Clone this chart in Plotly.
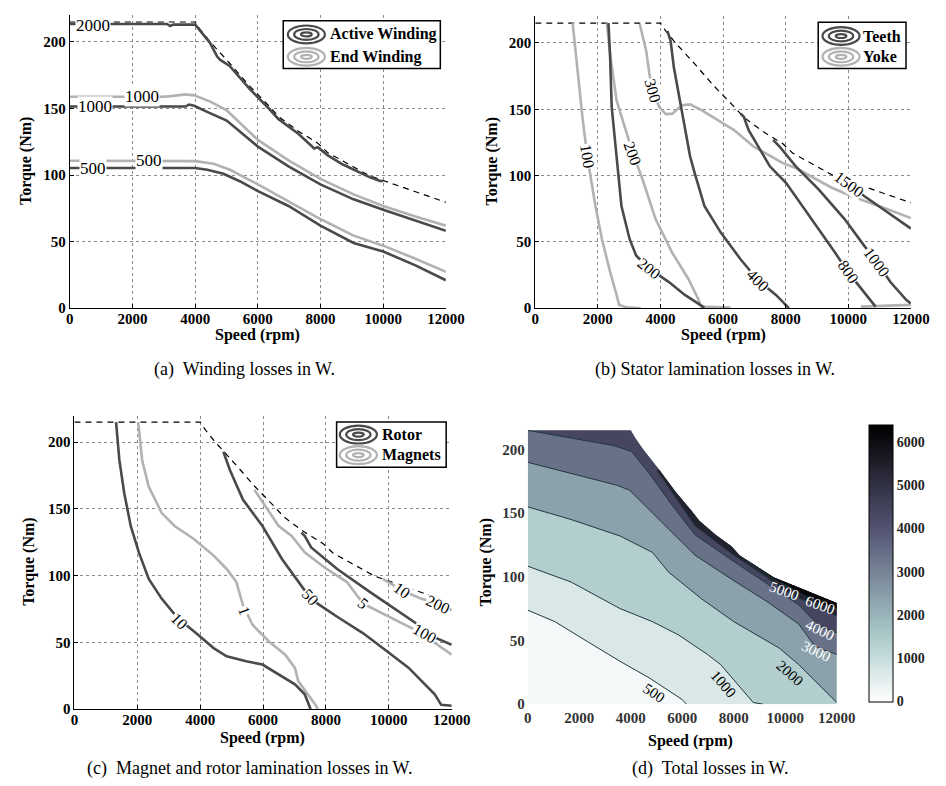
import plotly.graph_objects as go

# ---------------- DATA ----------------
speed_ticks = [0, 2000, 4000, 6000, 8000, 10000, 12000]
speed_tick_text = ["0", "2000", "4000", "6000", "8000", "10000", "12000"]
torque_ticks = [0, 50, 100, 150, 200]
cbar_ticks = [0, 1000, 2000, 3000, 4000, 5000, 6000]

# maximum torque envelope
env_speed = [0, 4000, 4170, 4480, 5100, 5730, 6350, 6660, 7290, 7910, 8220, 9560, 10600, 12000]
env_torque = [215, 215, 209, 200, 184, 167, 152, 144, 133, 124, 117, 99.5, 91, 79.5]

# (a) winding losses
a_act_2000_x = [0, 3100, 3200, 3300, 4000, 4170, 4480, 4700, 4800, 5100, 5730, 6350, 6660, 7290, 7800, 7910, 8220, 8700, 8800, 9560, 9800, 9900, 10000]
a_act_2000_y = [213.5, 213.5, 212, 213, 213, 208, 199, 189, 186.5, 182, 165, 150, 142, 131, 120, 121, 115, 108, 107, 98.5, 96, 95.5, 95.5]
a_act_1000_x = [0, 3700, 3800, 3967, 4382, 5005, 6002, 6978, 7996, 9055, 10000, 11028, 12000]
a_act_1000_y = [151.5, 151.5, 153, 152, 147.5, 141, 121.4, 106.6, 93, 81.8, 73.9, 65.7, 58.2]
a_act_500_x = [0, 4000, 4382, 4901, 5421, 6002, 6978, 7996, 9055, 10000, 11028, 12000]
a_act_500_y = [105.3, 105.3, 104, 101, 95.4, 88, 76.8, 62, 49, 42.6, 32.2, 21]
a_end_1000_x = [0, 3000, 3300, 3700, 3967, 4500, 5005, 6002, 6978, 7996, 9055, 10000, 11028, 12000]
a_end_1000_y = [158.8, 158.8, 159.5, 160.6, 159.9, 155, 148.7, 126.4, 111, 97.1, 85.5, 76.8, 68.9, 62]
a_end_500_x = [0, 4000, 4590, 5109, 6002, 6978, 7996, 9055, 10000, 11028, 12000]
a_end_500_y = [110.8, 110.5, 108.5, 104, 93, 80.5, 67, 54.5, 47, 37.2, 27.3]
a_labels = [("2000", 748, 212.6), ("1000", 800, 151.5), ("500", 748, 105.3),
            ("1000", 2305, 158.8), ("500", 2513, 110.8)]

# (b) stator lamination losses
b_teeth_200_x = [2338, 2390, 2442, 2649, 2753, 3013, 3221, 3636, 4260, 4779, 5195, 5403]
b_teeth_200_y = [215, 190, 151.7, 102, 77.1, 52.2, 39.8, 29.9, 19.9, 10, 3.7, 0.5]
b_teeth_400_x = [4221, 4324, 4427, 4583, 4791, 4947, 5091, 5403, 5922, 6545, 7117, 7688, 8104]
b_teeth_400_y = [209, 201.5, 181.6, 161.6, 136.8, 114.4, 102, 77.1, 57.2, 37.3, 21.1, 10, 0]
b_teeth_800_x = [6558, 6662, 6817, 7182, 7494, 8011, 9052, 9570, 9988, 10505, 10870]
b_teeth_800_y = [146.7, 144.3, 134.3, 119.4, 107, 94.5, 59.7, 42.2, 27.4, 12.4, 1.2]
b_teeth_1000_x = [7597, 7805, 8323, 9052, 9882, 10505, 10923, 11337, 11858, 12000]
b_teeth_1000_y = [126.9, 121.9, 107, 89.6, 67.2, 47.2, 34.8, 19.9, 6.2, 3.5]
b_teeth_1500_x = [9623, 10037, 10505, 11000, 11961, 12000]
b_teeth_1500_y = [100.7, 93.3, 84.6, 76.5, 60.9, 60]
b_yoke_100_x = [1195, 1351, 1506, 1662, 1922, 2130, 2390, 2597, 2680, 2909, 3377]
b_yoke_100_y = [215, 176.6, 144.3, 114.4, 77.1, 52.2, 27.4, 10, 2.5, 0.7, 0]
b_yoke_200_x = [2286, 2400, 2597, 2909, 3117, 3429, 3844, 4364, 4883, 5195, 5299, 6234]
b_yoke_200_y = [215, 190, 156.7, 131.8, 116.9, 97, 67.2, 42.3, 22.4, 7.5, 1.2, 0.5]
b_yoke_300_x = [3336, 3544, 3647, 3753, 3959, 4168, 4376, 4688, 4947, 5312, 6350, 6970, 7909, 8323, 9455, 10090, 11129, 12000]
b_yoke_300_y = [214.5, 194, 176.6, 164.2, 151.7, 146.3, 146.7, 153, 153.7, 149.3, 134.3, 121.9, 109.4, 105.7, 91, 84.6, 75.8, 68]
b_yoke_low_x = [10400, 12000]
b_yoke_low_y = [1.2, 2.5]
b_labels = [("100", 1662, 114.4, 81), ("200", 3117, 116.9, 70), ("300", 3753, 164.2, 74),
            ("200", 3636, 29.9, 39), ("400", 7117, 21.1, 45), ("800", 9988, 27.4, 55),
            ("1000", 10923, 34.8, 54), ("1500", 10037, 93.3, 36)]

# (c) magnet and rotor lamination losses
c_rotor_10_x = [1324, 1428, 1583, 1790, 2048, 2359, 2772, 3290, 3807, 4427, 4841, 5462, 5979, 6496, 7013, 7324, 7479, 7510]
c_rotor_10_y = [215, 186.7, 162, 137.2, 117.4, 97.7, 82.8, 68, 58.1, 45.7, 39.6, 35.8, 33.4, 26, 18.5, 11.1, 1.2, 0]
c_rotor_50_x = [4738, 4944, 5358, 5979, 6600, 7117, 7322, 7530, 7735, 8356, 9184, 10012, 10633, 11046, 11459, 11665, 12000]
c_rotor_50_y = [192.8, 179.2, 157, 137.2, 112.5, 95.2, 89, 84, 79, 69.2, 56.8, 42, 30.9, 21, 11.1, 3.2, 2.5]
c_rotor_100_x = [7220, 7322, 7530, 8356, 9392, 10425, 10943, 11148, 12000]
c_rotor_100_y = [132.3, 129.8, 121.1, 105, 87.8, 71.7, 63, 56.8, 48.2]
c_mag_1_x = [2028, 2152, 2359, 2772, 3186, 3807, 4427, 4841, 5151, 5358, 5669, 6186, 6703, 7013, 7117, 7427, 7686, 7738]
c_mag_1_y = [215, 186.7, 166.9, 147.1, 137.2, 127.3, 115, 105, 95.2, 77.9, 63, 50.7, 40.8, 30.9, 21, 11.1, 2.5, 0]
c_mag_5_x = [5721, 6083, 6496, 6910, 7322, 7943, 8666, 9184, 9907, 10943, 12000]
c_mag_5_y = [164.4, 152, 137.2, 129.8, 117.5, 106.3, 95.2, 79, 70.5, 58.1, 40.8]
c_mag_10_x = [9805, 10425, 11000, 11565, 12000]
c_mag_10_y = [97.6, 89, 83, 78.5, 74.2]
c_labels = [("10", 3341, 65.5, 45), ("1", 5410, 74.2, 69), ("50", 7479, 84, 48),
            ("5", 9184, 79, 40), ("100", 11148, 57, 30), ("10", 10425, 89, 35), ("200", 11565, 78.5, 25)]

# (d) total losses
d_levels = [500, 1000, 2000, 3000, 4000, 5000, 6000]
d500_x = [0, 1050, 2310, 3575, 4710, 5470, 5975, 6165]
d500_y = [73.8, 64.8, 49.2, 33.7, 20.7, 10.4, 3.9, 0]
d1000_x = [0, 1680, 3575, 4840, 5850, 6985, 7490, 8375, 8755, 9130]
d1000_y = [108.3, 95.9, 75.1, 64.8, 54.4, 38.9, 31.1, 10.4, 1.3, 0]
d2000_x = [0, 1680, 3575, 4840, 5470, 6735, 8000, 9765, 10520, 11150, 12000]
d2000_y = [154.9, 145, 132.1, 119.2, 103.6, 82.9, 64.8, 44, 31.1, 18.1, 1.3]
d3000_x = [0, 1680, 3450, 3955, 4960, 5720, 6493, 8000, 9260, 10520, 11168, 12000]
d3000_y = [189.9, 181.3, 172, 168, 147.7, 132.1, 117, 97, 81, 63, 45, 39]
d4000_x = [0, 3350, 4030, 4724, 5610, 6493, 8000, 9260, 10520, 11343, 12000]
d4000_y = [215, 203, 198.4, 181, 156, 133, 112, 95, 78, 61, 56]
d5000_x = [5000, 5730, 6493, 8000, 9260, 9953, 11000, 12000]
d5000_y = [184, 162, 140, 117, 100, 89, 79, 69]
d6000_x = [8500, 9500, 10500, 11343, 12000]
d6000_y = [112, 99, 88, 78.5, 75]
d_labels = [("500", 4901, 9.1, 34, "black"), ("1000", 7591, 15.5, 49, "black"),
            ("2000", 10168, 24.6, 42, "black"), ("3000", 11179, 41.5, 25, "white"),
            ("4000", 11343, 58.5, 25, "white"), ("5000", 9953, 88.5, 20, "white"),
            ("6000", 11343, 77.5, 20, "white")]
d_cmax = 6400

captions = ["(a)  Winding losses in W.", "(b) Stator lamination losses in W.",
            "(c)  Magnet and rotor lamination losses in W.", "(d)  Total losses in W."]

# ---------------- STYLE / HELPERS ----------------
W, H = 946, 786
FONT = "Liberation Serif"
DARK = "#4a4a4a"
LIGHT = "#b2b2b2"


def fx(x):
    return x / W


def fy(y):
    return 1 - y / H


def bone(v):
    hot_r = min(1.0, v / 0.375)
    hot_g = min(1.0, max(0.0, (v - 0.375) / 0.375))
    hot_b = max(0.0, (v - 0.75) / 0.25)
    r = (7 * v + hot_b) / 8
    g = (7 * v + hot_g) / 8
    b = (7 * v + hot_r) / 8
    return "rgb(%d,%d,%d)" % (round(r * 255), round(g * 255), round(b * 255))


def loss_color(val):
    return bone(1 - min(max(val / d_cmax, 0), 1))


fig = go.Figure()


def line(x, y, color, ax, width=2.6, dash=None):
    fig.add_trace(go.Scatter(x=x, y=y, mode="lines", xaxis="x" + ax, yaxis="y" + ax,
                             line=dict(color=color, width=width, dash=dash),
                             hoverinfo="skip", showlegend=False))


def envelope(ax):
    line(env_speed, env_torque, "black", ax, width=1.2, dash="6px,5px")


# (a)
envelope("")
for xs, ys in [(a_end_1000_x, a_end_1000_y), (a_end_500_x, a_end_500_y)]:
    line(xs, ys, LIGHT, "")
for xs, ys in [(a_act_2000_x, a_act_2000_y), (a_act_1000_x, a_act_1000_y), (a_act_500_x, a_act_500_y)]:
    line(xs, ys, DARK, "")

# (b)
envelope("2")
for xs, ys in [(b_yoke_100_x, b_yoke_100_y), (b_yoke_200_x, b_yoke_200_y),
               (b_yoke_300_x, b_yoke_300_y), (b_yoke_low_x, b_yoke_low_y)]:
    line(xs, ys, LIGHT, "2")
for xs, ys in [(b_teeth_200_x, b_teeth_200_y), (b_teeth_400_x, b_teeth_400_y),
               (b_teeth_800_x, b_teeth_800_y), (b_teeth_1000_x, b_teeth_1000_y),
               (b_teeth_1500_x, b_teeth_1500_y)]:
    line(xs, ys, DARK, "2")

# (c)
envelope("3")
for xs, ys in [(c_mag_1_x, c_mag_1_y), (c_mag_5_x, c_mag_5_y), (c_mag_10_x, c_mag_10_y)]:
    line(xs, ys, LIGHT, "3")
for xs, ys in [(c_rotor_10_x, c_rotor_10_y), (c_rotor_50_x, c_rotor_50_y), (c_rotor_100_x, c_rotor_100_y)]:
    line(xs, ys, DARK, "3")

# (d) filled bands
d_contours = [(d500_x, d500_y), (d1000_x, d1000_y), (d2000_x, d2000_y), (d3000_x, d3000_y),
              (d4000_x, d4000_y), (d5000_x, d5000_y), (d6000_x, d6000_y)]


def fill(xs, ys, color):
    fig.add_trace(go.Scatter(x=xs, y=ys, mode="lines", fill="toself", fillcolor=color,
                             line=dict(width=0, color=color), xaxis="x4", yaxis="y4",
                             hoverinfo="skip", showlegend=False))


fill(env_speed + [env_speed[-1], 0], env_torque + [0, 0], loss_color(d_levels[0] * 0.4))
for i, (cx, cy) in enumerate(d_contours):
    xs, ys = list(cx), list(cy)
    if xs[-1] < env_speed[-1]:
        xs.append(env_speed[-1])
        ys.append(0)
    for ex, ey in zip(reversed(env_speed), reversed(env_torque)):
        if ex > cx[0] or cx[0] == 0:
            xs.append(ex)
            ys.append(ey)
    nxt = d_levels[i + 1] if i + 1 < len(d_levels) else d_cmax
    fill(xs, ys, loss_color(d_levels[i] + 0.4 * (nxt - d_levels[i])))
for cx, cy in d_contours:
    line(cx, cy, "#22393e", "4", width=1)

# colorbar
fig.add_trace(go.Scatter(
    x=[None], y=[None], mode="markers", xaxis="x4", yaxis="y4", showlegend=False,
    marker=dict(color=[0], cmin=0, cmax=d_cmax, showscale=True,
                colorscale=[[i / 20, bone(1 - i / 20)] for i in range(21)],
                colorbar=dict(x=fx(878), xanchor="left", y=fy(700.7), yanchor="bottom",
                              len=(700.7 - 420.7) / H, lenmode="fraction", thickness=24,
                              thicknessmode="pixels", outlinecolor="black", outlinewidth=1,
                              tickvals=cbar_ticks, ticks="", ticklabelposition="outside",
                              tickfont=dict(family=FONT, size=14, color="#222", weight="bold"),
                              xpad=0, ypad=0))))

# ---------------- LAYOUT ----------------
doms = {
    "": ((59.3, 444.7), (7.4, 303.3)),
    "2": ((536.3, 921.3), (8.5, 303.3)),
    "3": ((64.0, 450.7), (411.7, 708.3)),
    "4": ((528.7, 845.3), (420.3, 703.3)),
}
layout = dict(width=W, height=H, margin=dict(l=0, r=0, t=0, b=0),
              paper_bgcolor="white", plot_bgcolor="white", showlegend=False,
              font=dict(family=FONT, color="black"))
tickfont = dict(family=FONT, size=15, color="black", weight="bold")
for ax, ((x0, x1), (y0, y1)) in doms.items():
    boxed = ax != "4"
    common = dict(showgrid=boxed, gridcolor="#8a8a8a", griddash="dot", gridwidth=1,
                  zeroline=False, showline=boxed, linecolor="black", linewidth=1,
                  ticks="inside" if boxed else "", ticklen=4, tickcolor="black",
                  tickfont=tickfont if boxed else dict(family=FONT, size=15, color="#333", weight="bold"),
                  fixedrange=True)
    layout["xaxis" + ax] = dict(domain=[fx(x0), fx(x1)], range=[0, 12000], tickvals=speed_ticks,
                                ticktext=speed_tick_text, ticklabelstandoff=-3 if boxed else 3,
                                anchor="y" + ax, **common)
    layout["yaxis" + ax] = dict(domain=[fy(y1), fy(y0)], range=[0, 220], tickvals=torque_ticks,
                                ticklabelstandoff=0 if boxed else 2,
                                anchor="x" + ax, **common)

annotations = []
shapes = []


def text(x, y, s, size=16, bold=True, angle=0, xanchor="center", color="black"):
    annotations.append(dict(x=fx(x), y=fy(y), xref="paper", yref="paper", text=s, showarrow=False,
                            textangle=angle, xanchor=xanchor, yanchor="middle",
                            font=dict(family=FONT, size=size, color=color,
                                      weight="bold" if bold else "normal")))


# axis titles
for x, y in [(252, 330), (729, 330), (257, 738), (695, 741)]:
    text(x, y, "Speed (rpm)")
for x, y in [(15, 155), (492, 155), (18, 560), (486, 560)]:
    text(x, y, "Torque (Nm)", angle=-90)
# captions
for (x, y), s in zip([(238, 365), (721, 365), (243, 768), (715, 768)], captions):
    text(x, y, s, size=18, bold=False)


def clabel(ax, s, x, y, angle=0, bg="white", color="black", size=16):
    annotations.append(dict(x=x, y=y, xref="x" + ax, yref="y" + ax, text=s, showarrow=False,
                            textangle=angle, bgcolor=bg, borderpad=0,
                            font=dict(family=FONT, size=size, color=color)))


for s, x, y in a_labels:
    clabel("", s, x, y, size=17)
for s, x, y, ang in b_labels:
    clabel("2", s, x, y, ang)
for s, x, y, ang in c_labels:
    clabel("3", s, x, y, ang)
for s, x, y, ang, col in d_labels:
    clabel("4", s, x, y, ang, bg="rgba(0,0,0,0)", color=col, size=15)


def legend(box, entries):
    x0, y0, x1, y1 = box
    shapes.append(dict(type="rect", xref="paper", yref="paper", x0=fx(x0), x1=fx(x1),
                       y0=fy(y1), y1=fy(y0), line=dict(color="black", width=1.5),
                       fillcolor="white", layer="above"))
    for name, col, cx, cy, tx in entries:
        for w, h in [(38, 18), (25, 11), (11, 4)]:
            shapes.append(dict(type="circle", xref="paper", yref="paper",
                               x0=fx(cx - w / 2), x1=fx(cx + w / 2), y0=fy(cy + h / 2), y1=fy(cy - h / 2),
                               line=dict(color=col, width=2.2), layer="above"))
        text(tx, cy, name, size=16, xanchor="left")


legend((278, 13, 439, 61), [("Active Winding", DARK, 301.7, 26.7, 324),
                            ("End Winding", LIGHT, 301.7, 49.3, 324)])
legend((826.3, 14.3, 916.3, 61), [("Teeth", DARK, 849.7, 28.3, 870),
                                  ("Yoke", LIGHT, 849.7, 49.3, 870)])
legend((332.7, 418.3, 445, 464), [("Rotor", DARK, 355, 431, 377),
                                  ("Magnets", LIGHT, 355, 451.7, 377)])

layout["annotations"] = annotations
layout["shapes"] = shapes
fig.update_layout(**layout)
fig.write_html("out.html")
